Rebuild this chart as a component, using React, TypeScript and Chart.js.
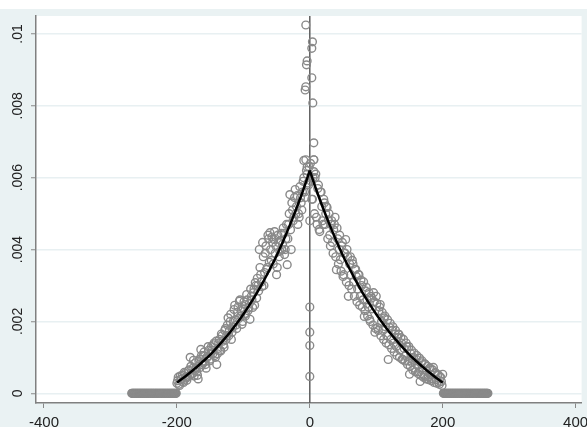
import React, { useEffect, useRef } from "react";
import { Chart, registerables } from "chart.js";

Chart.register(...registerables);

// Axis ticks
const xTicks = [-400, -200, 0, 200, 400];
const yTicks = [0, 0.002, 0.004, 0.006, 0.008, 0.01];
const yTickLabels = ["0", ".002", ".004", ".006", ".008", ".01"];

// Fitted curve: distance from 0 and density (symmetric on both sides)
const fitOffsets = [0, 10, 20, 30, 40, 50, 60, 70, 80, 90, 100, 110, 120, 130, 140, 150, 160, 170, 180, 190, 200];
const fitValues = [
  0.0062, 0.00565, 0.00515, 0.00468, 0.00424, 0.00383, 0.00346, 0.00311, 0.00278, 0.00248,
  0.0022, 0.00194, 0.0017, 0.00148, 0.00127, 0.00107, 0.0009, 0.00073, 0.00058, 0.00043, 0.0003,
];

const CLOUD_STEP = 2;

// Observed densities, left side, even x: -200, -198, ..., -2
const LEFT_EVEN_START = -200;
const leftEven = [
  0.00028, 0.00045, 0.00022, 0.00038, 0.0005, 0.0003, 0.00055, 0.00042, 0.00047, 0.00065,
  0.001, 0.00052, 0.0007, 0.00048, 0.00085, 0.0006, 0.0004, 0.00095, 0.00122, 0.0008,
  0.00105, 0.00088, 0.0007, 0.00103, 0.0012, 0.00095, 0.0013, 0.0011, 0.0014, 0.001,
  0.0008, 0.00125, 0.0015, 0.00118, 0.0016, 0.00135, 0.00175, 0.0015, 0.0019, 0.0016,
  0.002, 0.0015, 0.00185, 0.00233, 0.00205, 0.0018, 0.0024, 0.00256, 0.00215, 0.00192,
  0.00235, 0.00247, 0.00222, 0.0026, 0.00238, 0.00206, 0.0027, 0.00239, 0.0029, 0.00308,
  0.00265, 0.003, 0.004, 0.0033, 0.00297, 0.0038, 0.00336, 0.0041, 0.0035, 0.0043,
  0.00447, 0.0037, 0.0042, 0.00428, 0.0039, 0.0033, 0.0044, 0.0038, 0.00425, 0.004,
  0.0046, 0.00386, 0.0043, 0.00358, 0.0047, 0.00553, 0.004, 0.0051, 0.0049, 0.00567,
  0.0052, 0.0047, 0.0049, 0.00544, 0.0051, 0.0059, 0.0056, 0.0065, 0.0061, 0.0058,
];

// Observed densities, left side, odd x: -199, -197, ..., -1
const LEFT_ODD_START = -199;
const leftOdd = [
  0.00035, 0.00025, 0.00048, 0.0004, 0.00033, 0.00058, 0.00045, 0.00036, 0.00062, 0.0005,
  0.00075, 0.00055, 0.00092, 0.00063, 0.0007, 0.0005, 0.0009, 0.00072, 0.00105, 0.00085,
  0.00115, 0.0008, 0.00098, 0.0013, 0.0009, 0.00112, 0.0012, 0.00135, 0.00105, 0.00145,
  0.0011, 0.0014, 0.0012, 0.00165, 0.00145, 0.00128, 0.0018, 0.0016, 0.0021, 0.00175,
  0.0022, 0.0017, 0.002, 0.00245, 0.0019, 0.00225, 0.00208, 0.0026, 0.0023, 0.002,
  0.00255, 0.00215, 0.00275, 0.0023, 0.0025, 0.0029, 0.0026, 0.0028, 0.00245, 0.003,
  0.0032, 0.00285, 0.0035, 0.0031, 0.0042, 0.003, 0.0039, 0.00345, 0.0044, 0.00365,
  0.004, 0.00435, 0.0036, 0.0045, 0.0041, 0.0035, 0.0042, 0.00395, 0.00445, 0.00415,
  0.00445, 0.004, 0.0047, 0.0043, 0.005, 0.00455, 0.0053, 0.0048, 0.00545, 0.005,
  0.0055, 0.005, 0.00575, 0.0053, 0.0056, 0.006, 0.00545, 0.0062, 0.00585, 0.0063,
];

// Observed densities, right side, even x: 2, 4, ..., 200
const RIGHT_EVEN_START = 2;
const rightEven = [
  0.0059, 0.0054, 0.0065, 0.006, 0.0049, 0.0057, 0.00456, 0.0056, 0.0052, 0.0047,
  0.0053, 0.005, 0.00517, 0.00483, 0.0044, 0.0047, 0.0042, 0.00455, 0.0049, 0.00344,
  0.0043, 0.004, 0.00372, 0.0041, 0.00325, 0.0039, 0.00428, 0.004, 0.0027, 0.0036,
  0.0033, 0.0037, 0.0031, 0.00345, 0.00325, 0.0029, 0.0033, 0.0027, 0.003, 0.0026,
  0.00214, 0.00285, 0.0026, 0.0024, 0.00206, 0.0027, 0.00235, 0.0028, 0.0017, 0.0027,
  0.00183, 0.0023, 0.00247, 0.002, 0.00175, 0.0021, 0.00185, 0.0016, 0.00094, 0.00183,
  0.0015, 0.00175, 0.0014, 0.00165, 0.0013, 0.00155, 0.00164, 0.0012, 0.0014, 0.00094,
  0.00125, 0.00105, 0.0013, 0.0009, 0.00053, 0.0011, 0.00085, 0.001, 0.0007, 0.00095,
  0.00078, 0.0006, 0.00033, 0.00085, 0.00065, 0.0005, 0.0008, 0.00062, 0.00045, 0.0007,
  0.00052, 0.0004, 0.00072, 0.00055, 0.00038, 0.0005, 0.0003, 0.00045, 0.00033, 0.00053,
];

// Observed densities, right side, odd x: 1, 3, ..., 199
const RIGHT_ODD_START = 1;
const rightOdd = [
  0.0064, 0.0054, 0.006, 0.005, 0.0061, 0.0047, 0.0058, 0.0045, 0.0056, 0.0048,
  0.0054, 0.0047, 0.0052, 0.0043, 0.005, 0.0041, 0.0048, 0.0039, 0.0047, 0.0038,
  0.0046, 0.0036, 0.0044, 0.0034, 0.0042, 0.0033, 0.0039, 0.0031, 0.0038, 0.003,
  0.0038, 0.0029, 0.0036, 0.0027, 0.00345, 0.00255, 0.0033, 0.00245, 0.00315, 0.0024,
  0.0031, 0.0023, 0.00295, 0.00215, 0.0028, 0.002, 0.00265, 0.0019, 0.00255, 0.0018,
  0.0025, 0.00175, 0.0024, 0.0016, 0.00225, 0.0015, 0.00215, 0.0014, 0.00205, 0.00135,
  0.00195, 0.00125, 0.00185, 0.00115, 0.00175, 0.00105, 0.00165, 0.001, 0.00155, 0.00095,
  0.0015, 0.0009, 0.0014, 0.0008, 0.0013, 0.00075, 0.0012, 0.00065, 0.00112, 0.0006,
  0.00105, 0.00055, 0.00098, 0.0005, 0.0009, 0.00045, 0.00082, 0.0004, 0.00075, 0.00038,
  0.0007, 0.00035, 0.00065, 0.0003, 0.00058, 0.00028, 0.00052, 0.00025, 0.00045, 0.00022,
];

// Observations close to zero
const centerX = [-6, 4, 3, -4, -5, 3, -6, -7, 4.5, 6, 6, -9, 6, -4, 0, 0, 0, 0, 0];
const centerY = [
  0.01025, 0.00978, 0.0096, 0.00925, 0.00914, 0.00878, 0.00853, 0.00844, 0.00808, 0.00697,
  0.0065, 0.00648, 0.00617, 0.0063, 0.0048, 0.0024, 0.0017, 0.00133, 0.00047,
];

// Zero-density tails (integer x from bound to bound)
const zeroLeftRange = [-268, -201];
const zeroRightRange = [201, 268];

const X_MIN = -412;
const X_MAX = 409;
const Y_MIN = -0.00027;
const Y_MAX = 0.0105;

const FONT = "'Liberation Sans', Arial, sans-serif";
const OUTER = "rgb(234,242,243)";

export default function App() {
  const ref = useRef<HTMLCanvasElement>(null);

  useEffect(() => {
    document.body.style.margin = "0";
    const pts: { x: number; y: number }[] = [];
    for (let x = zeroLeftRange[0]; x <= zeroLeftRange[1]; x++) pts.push({ x, y: 0 });
    for (let x = zeroRightRange[0]; x <= zeroRightRange[1]; x++) pts.push({ x, y: 0 });
    const addSeries = (vals: number[], start: number) =>
      vals.forEach((v, i) => pts.push({ x: start + CLOUD_STEP * i, y: v }));
    addSeries(leftEven, LEFT_EVEN_START);
    addSeries(leftOdd, LEFT_ODD_START);
    addSeries(rightEven, RIGHT_EVEN_START);
    addSeries(rightOdd, RIGHT_ODD_START);
    centerX.forEach((x, i) => pts.push({ x, y: centerY[i] }));

    const fitLeft = fitOffsets.map((d, i) => ({ x: -d, y: fitValues[i] })).reverse();
    const fitRight = fitOffsets.map((d, i) => ({ x: d, y: fitValues[i] }));

    const bgPlugin = {
      id: "bg",
      beforeDraw(chart: any) {
        const { ctx, chartArea: a, width, height } = chart;
        ctx.save();
        ctx.fillStyle = "#ffffff";
        ctx.fillRect(0, 0, width, height);
        ctx.fillStyle = OUTER;
        ctx.fillRect(0, 9, width, height - 9);
        ctx.fillStyle = "#ffffff";
        ctx.fillRect(a.left, a.top, a.right - a.left, a.bottom - a.top);
        ctx.restore();
      },
      beforeDatasetsDraw(chart: any) {
        const { ctx, chartArea: a } = chart;
        const x0 = chart.scales.x.getPixelForValue(0);
        ctx.save();
        ctx.strokeStyle = "#5e5e5e";
        ctx.lineWidth = 1.5;
        ctx.beginPath();
        ctx.moveTo(x0, a.top);
        ctx.lineTo(x0, a.bottom);
        ctx.stroke();
        ctx.restore();
      },
      afterDraw(chart: any) {
        const { ctx } = chart;
        const ys = chart.scales.y;
        ctx.save();
        ctx.fillStyle = "#222222";
        ctx.font = `14px ${FONT}`;
        ctx.textAlign = "center";
        ctx.textBaseline = "alphabetic";
        yTicks.forEach((v, i) => {
          const py = ys.getPixelForValue(v);
          ctx.save();
          ctx.translate(22, py);
          ctx.rotate(-Math.PI / 2);
          ctx.fillText(yTickLabels[i], 0, 0);
          ctx.restore();
        });
        ctx.restore();
      },
    };

    const chart = new Chart(ref.current!, {
      type: "scatter",
      data: {
        datasets: [
          {
            data: fitLeft,
            showLine: true,
            borderColor: "#000000",
            borderWidth: 2.5,
            pointRadius: 0,
            cubicInterpolationMode: "monotone",
            order: 0,
          } as any,
          {
            data: fitRight,
            showLine: true,
            borderColor: "#000000",
            borderWidth: 2.5,
            pointRadius: 0,
            cubicInterpolationMode: "monotone",
            order: 0,
          } as any,
          {
            data: pts,
            showLine: false,
            pointRadius: 3.9,
            pointBorderWidth: 1.4,
            pointBorderColor: "#898989",
            pointBackgroundColor: "rgba(0,0,0,0)",
            order: 1,
          } as any,
        ],
      },
      options: {
        animation: false,
        responsive: false,
        devicePixelRatio: 1,
        layout: { padding: { top: 16, left: 0, right: 0, bottom: 0 } },
        plugins: { legend: { display: false }, tooltip: { enabled: false } },
        scales: {
          x: {
            type: "linear",
            min: X_MIN,
            max: X_MAX,
            afterBuildTicks: (s: any) => {
              s.ticks = xTicks.map((v) => ({ value: v }));
            },
            afterFit: (s: any) => {
              s.height = 24;
              s.paddingLeft = 0;
              s.paddingRight = 0;
            },
            grid: {
              drawOnChartArea: false,
              drawTicks: true,
              tickLength: 5,
              tickColor: "#888888",
              tickWidth: 1,
            },
            border: { display: true, color: "#808080", width: 1.5 },
            ticks: {
              color: "#222222",
              font: { family: FONT, size: 15 },
              padding: 6,
              maxRotation: 0,
              minRotation: 0,
              callback: (v: any) => String(v),
            },
          },
          y: {
            type: "linear",
            min: Y_MIN,
            max: Y_MAX,
            afterBuildTicks: (s: any) => {
              s.ticks = yTicks.map((v) => ({ value: v }));
            },
            afterFit: (s: any) => {
              s.width = 36;
              s.paddingTop = 0;
              s.paddingBottom = 0;
            },
            grid: {
              color: "rgb(232,240,242)",
              lineWidth: 1.5,
              drawTicks: true,
              tickLength: 5,
              tickColor: "#888888",
              tickWidth: 1,
            },
            border: { display: true, color: "#808080", width: 1.5 },
            ticks: { display: false },
          },
        },
      },
      plugins: [bgPlugin],
    });
    return () => chart.destroy();
  }, []);

  return (
    <div style={{ width: 587, height: 427 }}>
      <canvas ref={ref} width={587} height={427} style={{ display: "block" }} />
    </div>
  );
}
